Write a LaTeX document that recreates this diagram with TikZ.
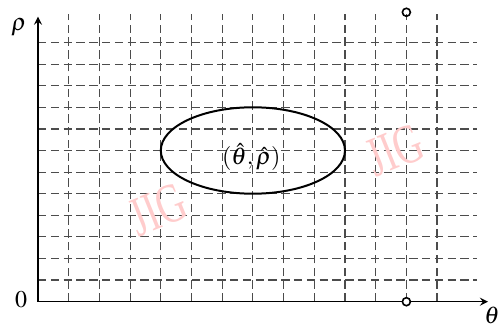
\documentclass[tikz,border=0pt]{standalone}
\usepackage{mathptmx}
\usepackage{fontspec}
\setmainfont{Liberation Serif}
\tikzset{
  gridline/.style={gray!60!black, line width=0.6pt, dash pattern=on 4.2pt off 2.2pt},
  axisline/.style={->, line width=0.8pt},
  watermark/.style={text=red!20, font=\fontsize{28}{28}\selectfont, rotate=22, xscale=0.7}
}
\begin{document}
\begin{tikzpicture}[x=15.35pt, y=10.8pt, >=stealth]
    \useasboundingbox (-1.238,-1.171) rectangle (15.147,13.968);
    % 网格
    \foreach \x in {1,...,13} \draw[gridline] (\x,0) -- (\x,13.3);
    \foreach \y in {1,...,12} \draw[gridline] (0,\y) -- (14.3,\y);
    % 水印
    \node[watermark] (wm1) at (3.91,4.25) {JIG};
    \node[watermark] (wm2) at (11.63,7.02) {JIG};
    % 坐标轴
    \coordinate (O) at (0,0);
    \coordinate (xend) at (14.66,0);
    \coordinate (yend) at (0,13.2);
    \draw[axisline] (O) -- (xend);
    \draw[axisline] (O) -- (yend);
    \node[font=\large] (xlab) at (14.79,-0.62) {$\theta$};
    \node[font=\large] (ylab) at (-0.62,12.72) {$\rho$};
    \node[font=\large] (zero) at (-0.55,0.08) {$0$};
    % 椭圆
    \draw[line width=1pt] (7,7) ellipse (3 and 2);
    \node[font=\large] (est) at (6.95,6.7) {$(\hat{\theta},\hat{\rho})$};
    % 端点
    \draw[line width=0.8pt, fill=white] (12,0) circle (2pt);
    \draw[line width=0.8pt] (12,13.4) circle (2pt);
\end{tikzpicture}
\end{document}
